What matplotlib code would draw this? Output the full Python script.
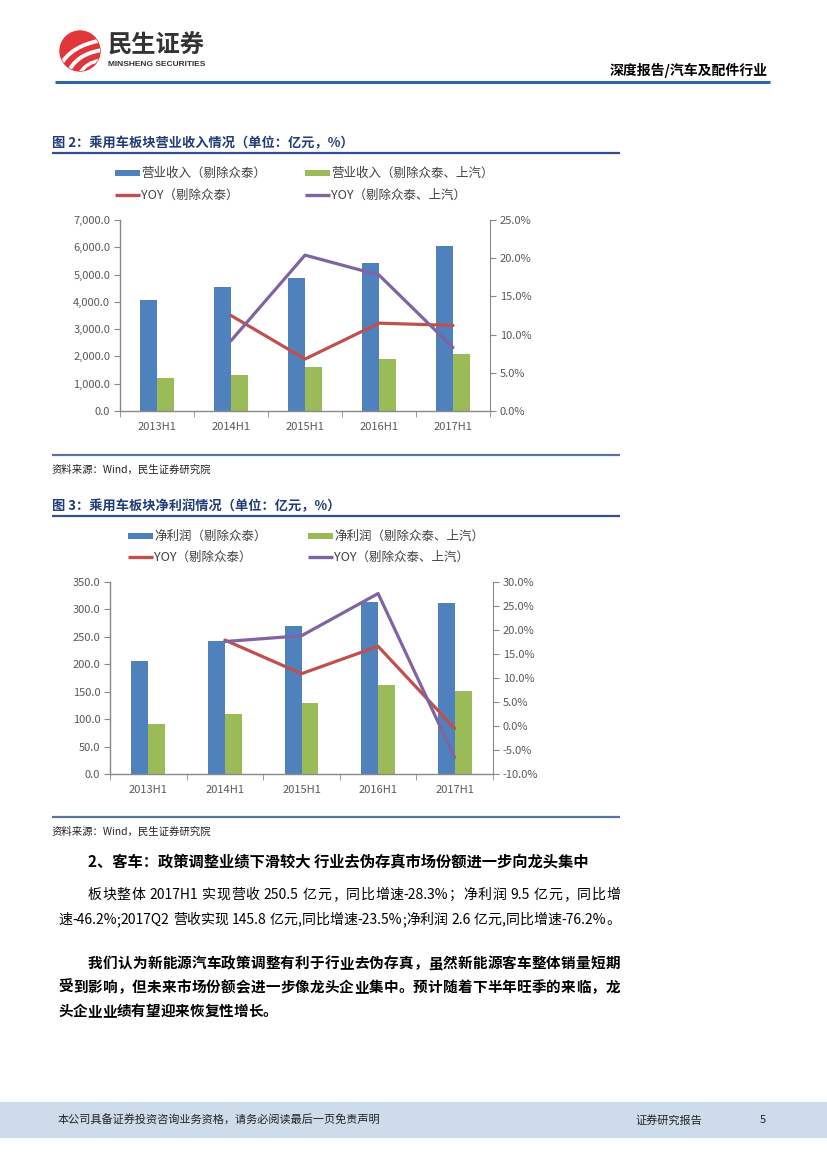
import re
import numpy as np
import matplotlib
matplotlib.use('Agg')
import matplotlib.pyplot as plt
from matplotlib.patches import Rectangle, Circle, PathPatch
from matplotlib.path import Path
from matplotlib.ticker import FuncFormatter
from matplotlib.font_manager import FontProperties

FONT = ['Noto Sans CJK SC', 'DejaVu Sans']
plt.rcParams['font.family'] = FONT
plt.rcParams['axes.unicode_minus'] = False

W, H = 827, 1169

# ---------------- data ----------------
categories = ['2013H1', '2014H1', '2015H1', '2016H1', '2017H1']

rev_labels = ['营业收入（剔除众泰）', '营业收入（剔除众泰、上汽）',
              'YOY（剔除众泰）', 'YOY（剔除众泰、上汽）']
rev_ex_zt = [4060, 4550, 4880, 5430, 6045]
rev_ex_zt_sq = [1215, 1325, 1615, 1910, 2095]
rev_yoy_ex_zt = [np.nan, 12.5, 6.8, 11.5, 11.2]
rev_yoy_ex_zt_sq = [np.nan, 9.2, 20.4, 17.8, 8.3]

np_labels = ['净利润（剔除众泰）', '净利润（剔除众泰、上汽）',
             'YOY（剔除众泰）', 'YOY（剔除众泰、上汽）']
np_ex_zt = [206, 242, 270, 313, 312]
np_ex_zt_sq = [91, 109, 129, 162, 152]
np_yoy_ex_zt = [np.nan, 17.9, 10.9, 16.6, -0.5]
np_yoy_ex_zt_sq = [np.nan, 17.6, 18.8, 27.6, -6.6]

rev_yticks = [0, 1000, 2000, 3000, 4000, 5000, 6000, 7000]
rev_y2ticks = [0, 5, 10, 15, 20, 25]
np_yticks = [0, 50, 100, 150, 200, 250, 300, 350]
np_y2ticks = [-10, -5, 0, 5, 10, 15, 20, 25, 30]

title2 = '图 2：乘用车板块营业收入情况（单位：亿元，%）'
title3 = '图 3：乘用车板块净利润情况（单位：亿元，%）'
source_text = '资料来源：Wind，民生证券研究院'
heading = '2、客车：政策调整业绩下滑较大 行业去伪存真市场份额进一步向龙头集中'
para1 = ['板块整体 2017H1 实现营收 250.5 亿元，同比增速-28.3%；净利润 9.5 亿元，同比增',
         '速-46.2%;2017Q2 营收实现 145.8 亿元,同比增速-23.5%;净利润 2.6 亿元,同比增速-76.2%。']
para2 = ['我们认为新能源汽车政策调整有利于行业去伪存真，虽然新能源客车整体销量短期',
         '受到影响，但未来市场份额会进一步像龙头企业集中。预计随着下半年旺季的来临，龙',
         '头企业业绩有望迎来恢复性增长。']
header_right = '深度报告/汽车及配件行业'
footer_left = '本公司具备证券投资咨询业务资格，请务必阅读最后一页免责声明'
footer_mid = '证券研究报告'
page_no = '5'

BLUE = '#4F81BD'
GREEN = '#9BBB59'
RED = '#C0504D'
PURPLE = '#8064A2'
AX = '#898989'
TXT = '#595959'
TITLE_C = '#1F3C78'

fig = plt.figure(figsize=(W / 100, H / 100), dpi=100)
fig.patch.set_facecolor('white')

bg = fig.add_axes([0, 0, 1, 1])
bg.set_xlim(0, W)
bg.set_ylim(H, 0)
bg.axis('off')

renderer = fig.canvas.get_renderer()


def px_rect(l, t, r, b):
    return [l / W, 1 - b / H, (r - l) / W, (b - t) / H]


def justified(x0, x1, y, s, size, weight='normal', justify=True, color='black'):
    fp = FontProperties(family=FONT, size=size, weight=weight)
    toks = re.findall(r'[A-Za-z0-9.\-%]+|.', s)
    widths = [renderer.get_text_width_height_descent(t, fp, ismath=False)[0] for t in toks]
    extra = (x1 - x0 - sum(widths)) / (len(toks) - 1) if justify else 0
    x = x0
    for t, w in zip(toks, widths):
        bg.text(x, y, t, fontproperties=fp, ha='left', va='center', color=color)
        x += w + extra


# ---------------- header ----------------
logo = Circle((80, 51), 20, color='#E2353A', zorder=2)
bg.add_patch(logo)
for (p0, p1, p2, lw) in [((60, 66), (70, 46), (102, 40), 2.8),
                         ((68, 73), (76, 54), (102, 50), 2.8),
                         ((79, 75), (85, 62), (102, 60), 2.5)]:
    pp = PathPatch(Path([p0, p1, p2], [Path.MOVETO, Path.CURVE3, Path.CURVE3]),
                   fill=False, ec='white', lw=lw, zorder=3, capstyle='round')
    bg.add_patch(pp)
    pp.set_clip_path(logo)
bg.text(108, 46, '民生证券', fontsize=17.5, fontweight='bold', color='#333333',
        ha='left', va='center')
bg.text(108, 64, 'MINSHENG SECURITIES', fontsize=6.0, fontweight='bold',
        family='Liberation Sans', color='#333333', ha='left', va='center')
bg.text(768, 70, header_right, fontsize=10, fontweight='bold', color='black',
        ha='right', va='center')
bg.plot([55, 770], [82, 82], color='#2F67A6', lw=2.2, solid_capstyle='butt')


# ---------------- chart helper ----------------
def chart(title, t_y, legend_labels, leg_rows, leg_cols, rect, bars1, bars2,
          yoy1, yoy2, yticks, y2ticks, lfmt, bw, bottom_y, src_y):
    bg.text(52, t_y, title, fontsize=9.5, fontweight='bold', color=TITLE_C,
            ha='left', va='center')
    bg.plot([52, 620], [t_y + 10, t_y + 10], color='#2F4F8F', lw=1.6,
            solid_capstyle='butt')
    # legend
    handles = [('patch', BLUE), ('patch', GREEN), ('line', RED), ('line', PURPLE)]
    for i, ((kind, c), lab) in enumerate(zip(handles, legend_labels)):
        yy = leg_rows[i // 2]
        xx = leg_cols[i % 2]
        if kind == 'patch':
            bg.add_patch(Rectangle((xx, yy - 3), 25, 6, color=c, lw=0))
        else:
            bg.plot([xx, xx + 25], [yy, yy], color=c, lw=2.4, solid_capstyle='butt')
        bg.text(xx + 26, yy, lab, fontsize=9, color='#404040', ha='left', va='center')

    ax = fig.add_axes(rect)
    ax.set_facecolor('none')
    x = np.arange(len(categories))
    ax.bar(x - bw / 2, bars1, bw, color=BLUE, zorder=2)
    ax.bar(x + bw / 2, bars2, bw, color=GREEN, zorder=2)
    ax.set_xlim(-0.5, len(categories) - 0.5)
    ax.set_ylim(yticks[0], yticks[-1])
    ax.set_yticks(yticks)
    ax.yaxis.set_major_formatter(FuncFormatter(lfmt))
    ax.set_xticks(x)
    ax.set_xticklabels(categories)
    ax.set_xticks(np.arange(-0.5, len(categories)), minor=True)
    ax.tick_params(axis='x', which='major', length=0, pad=8, labelsize=8,
                   labelcolor=TXT)
    ax.tick_params(axis='x', which='minor', length=4, color=AX)
    ax.tick_params(axis='y', length=4, color=AX, labelsize=8, labelcolor=TXT, pad=3)
    for s in ['top', 'right']:
        ax.spines[s].set_visible(False)
    for s in ['left', 'bottom']:
        ax.spines[s].set_color(AX)
        ax.spines[s].set_linewidth(1.0)

    ax2 = ax.twinx()
    ax2.plot(x, yoy1, color=RED, lw=2.3, solid_capstyle='round')
    ax2.plot(x, yoy2, color=PURPLE, lw=2.3, solid_capstyle='round')
    ax2.set_ylim(y2ticks[0], y2ticks[-1])
    ax2.set_yticks(y2ticks)
    ax2.yaxis.set_major_formatter(FuncFormatter(lambda v, p: f'{v:.1f}%'))
    ax2.tick_params(axis='y', length=4, color=AX, labelsize=8, labelcolor=TXT, pad=3)
    for s in ['top', 'left', 'bottom']:
        ax2.spines[s].set_visible(False)
    ax2.spines['right'].set_color(AX)

    bg.plot([52, 620], [bottom_y, bottom_y], color='#5675A3', lw=1.6,
            solid_capstyle='butt')
    bg.text(52, src_y, source_text, fontsize=7.5, color='#222222', ha='left',
            va='center')


chart(title2, 143, rev_labels, (173, 195), (115, 305),
      px_rect(120, 220, 490, 411), rev_ex_zt, rev_ex_zt_sq,
      rev_yoy_ex_zt, rev_yoy_ex_zt_sq, rev_yticks, rev_y2ticks,
      lambda v, p: f'{v:,.1f}', 0.23, 455, 470)

chart(title3, 506, np_labels, (536, 557), (128, 308),
      px_rect(110, 582, 493, 774), np_ex_zt, np_ex_zt_sq,
      np_yoy_ex_zt, np_yoy_ex_zt_sq, np_yticks, np_y2ticks,
      lambda v, p: f'{v:.1f}', 0.22, 817, 832)

# ---------------- body text ----------------
bg.text(88, 862, heading, fontsize=11, fontweight='bold', color='black',
        ha='left', va='center')
justified(88, 620, 895, para1[0], 10)
justified(58, 620, 920, para1[1], 10)
justified(88, 620, 963, para2[0], 10.5, 'bold')
justified(58, 620, 987, para2[1], 10.5, 'bold')
justified(58, 620, 1011, para2[2], 10.5, 'bold', justify=False)

# ---------------- footer ----------------
bg.add_patch(Rectangle((0, 1102), W, 36, color='#CEDBEA', lw=0))
bg.text(58, 1120, footer_left, fontsize=8, color='#222222', ha='left', va='center')
bg.text(635, 1120, footer_mid, fontsize=8, color='#222222', ha='left', va='center')
bg.text(760, 1120, page_no, fontsize=8, color='#222222', ha='left', va='center')

fig.savefig('out.png', dpi=100, facecolor='white')
